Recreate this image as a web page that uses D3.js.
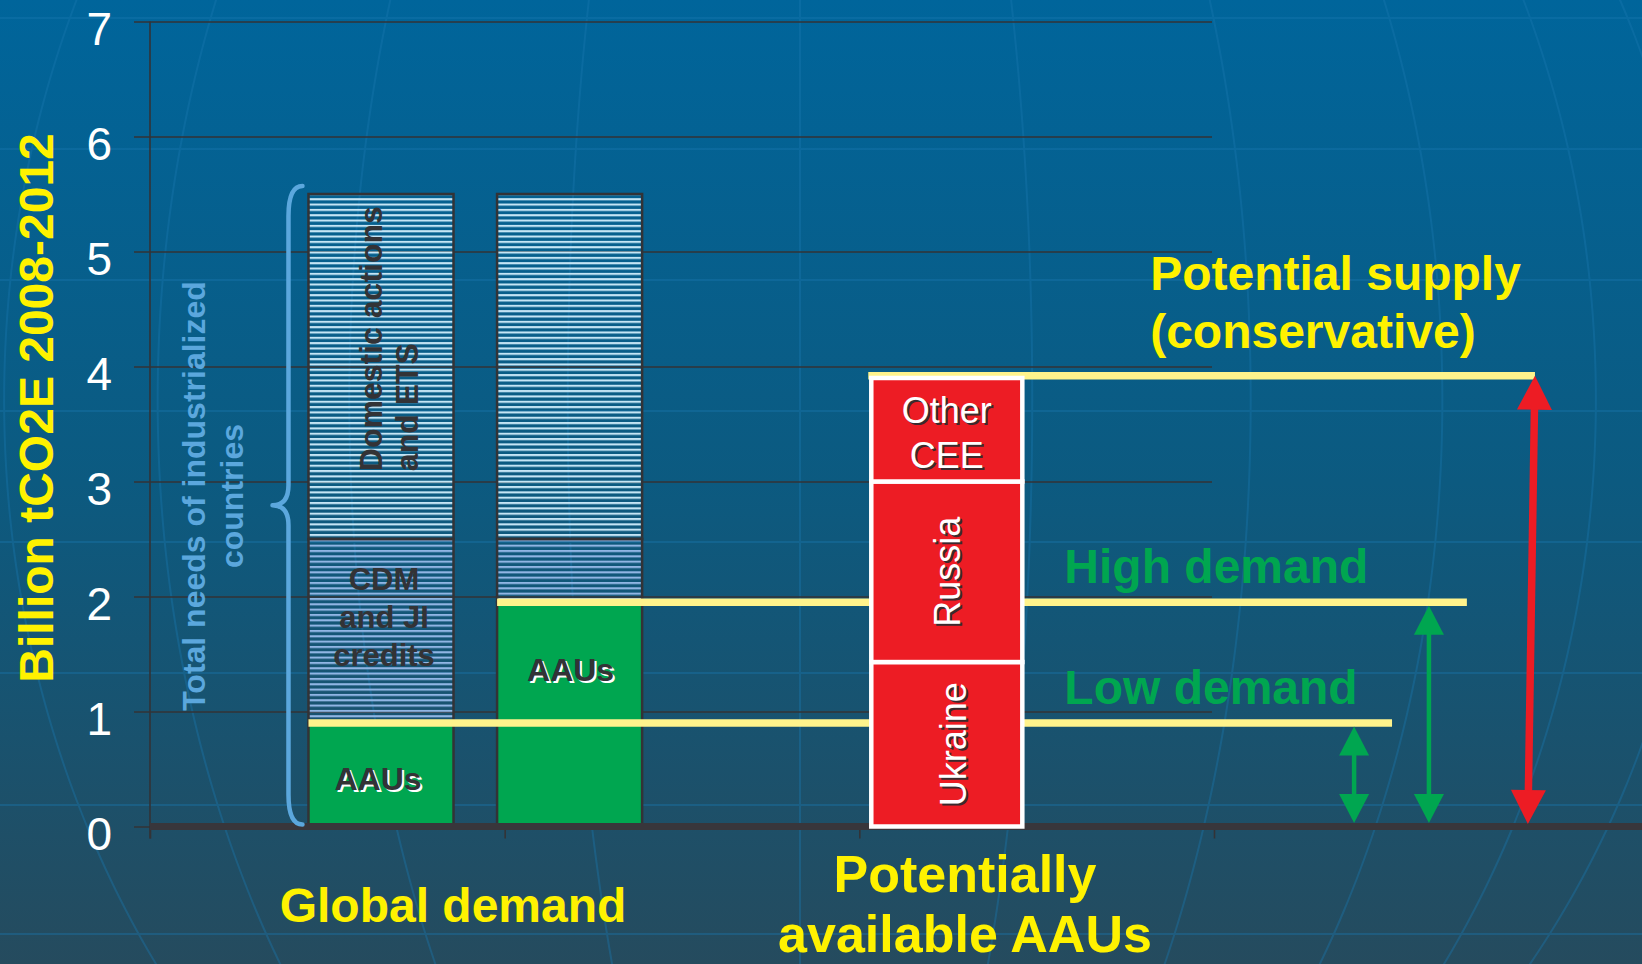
<!DOCTYPE html>
<html><head><meta charset="utf-8">
<script src="https://cdn.jsdelivr.net/npm/d3@7"></script>
<style>
html,body{margin:0;padding:0;background:#0b5a80;overflow:hidden;}
svg{display:block;font-family:"Liberation Sans",Arial,Helvetica,sans-serif;}
</style></head><body>
<svg id="chart" width="1642" height="964"></svg>
<script>
// ---------------- data ----------------
const yTicks = [0, 1, 2, 3, 4, 5, 6, 7];
const yTitle = "Billion tCO2E 2008-2012";
const barKeys = ["lowDemandBar", "highDemandBar", "gap", "supplyBar"];
const demandKeys = ["AAUs", "CDM", "Domestic"];
const lowDemandBar = [0.9, 1.6, 3.0];     // AAUs, CDM & JI, Domestic & ETS
const highDemandBar = [1.95, 0.55, 3.0];
const supplyCountries = ["Ukraine", "Russia", "Other CEE"];
const supplyValues = [1.43, 1.57, 0.9];
const demandLevelNames = ["Low demand", "High demand"];
const demandLevelValues = [0.9, 1.95];
const potentialSupplyValue = 3.92;
const needsBraceRange = [0, 5.57];
const categoryLabels = ["Global demand", "Potentially available AAUs"];

// ---------------- setup ----------------
const W = 1642, H = 964;
const svg = d3.select("#chart");
const y = d3.scaleLinear().domain([0, 7]).range([826.5, 21.5]);
const xLin = d3.scaleLinear().domain([0, 3]).range([150, 1214]);
const xBand = d3.scaleBand().domain(barKeys).range([286.7, 1041.1])
  .paddingInner(0.231).paddingOuter(0.1155);

const YELLOW = "#fff200", GREEN = "#00a650", RED = "#ed1c24",
      LINEY = "#fff38c", DARK = "#333336", BRACE = "#5ba7dd";

const defs = svg.append("defs");
const grad = defs.append("linearGradient").attr("id", "bg").attr("x1", 0).attr("y1", 0).attr("x2", 0).attr("y2", 1);
grad.append("stop").attr("offset", "0%").attr("stop-color", "#00659b");
grad.append("stop").attr("offset", "50%").attr("stop-color", "#0c5a80");
grad.append("stop").attr("offset", "100%").attr("stop-color", "#254b5e");

function hatch(id, color) {
  const p = defs.append("pattern").attr("id", id).attr("patternUnits", "userSpaceOnUse")
    .attr("width", 20).attr("height", 5.33).attr("y", 1);
  p.append("rect").attr("x", 0).attr("y", 0).attr("width", 20).attr("height", 2.1).attr("fill", color);
}
hatch("hatchDom", "#c4e5f5");
hatch("hatchCdm", "#90b5e4");

// background
svg.append("rect").attr("width", W).attr("height", H).attr("fill", "url(#bg)");

// decorative globe lines
const deco = svg.append("g").attr("fill", "none").attr("stroke", "#1a78b0").attr("stroke-width", 2).attr("opacity", 0.38);
[18, 149, 280, 411, 542, 673, 805, 934].forEach(v => {
  deco.append("line").attr("x1", 0).attr("x2", W).attr("y1", v).attr("y2", v);
});
const gcx = 800, gcy = 400, gR = 960;
[-56, -42, -28, -14, 0, 14, 28, 42, 56, 70].forEach(lon => {
  const pts = d3.range(-10, 980, 10).map(py => {
    const s = (gcy - py) / gR, c = Math.sqrt(Math.max(0, 1 - s * s));
    return [gcx + gR * Math.sin(lon * Math.PI / 180) * c, py];
  });
  deco.append("path").attr("d", d3.line().curve(d3.curveBasis)(pts));
});

// grid + y axis
const yAxis = d3.axisLeft(y).tickValues(yTicks).tickFormat(d3.format("d")).tickSize(0).tickPadding(38);
const gy = svg.append("g").attr("transform", `translate(${xLin(0)},0)`).call(yAxis);
gy.select(".domain").remove();
gy.selectAll(".tick line").attr("x1", -16).attr("x2", 1062).attr("stroke", DARK).attr("stroke-width", 1.6);
gy.selectAll(".tick text").attr("fill", "#ffffff").attr("font-size", 46)
  .attr("font-family", "Liberation Sans, Arial, sans-serif").attr("dy", 23).attr("text-anchor", "end");
svg.append("line").attr("x1", xLin(0)).attr("x2", xLin(0)).attr("y1", y(7)).attr("y2", y(0) + 12)
  .attr("stroke", DARK).attr("stroke-width", 1.6);

// bottom ticks
const xAxis = d3.axisBottom(xLin).tickValues([0, 1, 2, 3]).tickSize(12).tickFormat("");
const gx = svg.append("g").attr("transform", `translate(0,${y(0)})`).call(xAxis);
gx.select(".domain").remove();
gx.selectAll(".tick line").attr("stroke", DARK).attr("stroke-width", 1.6);

// demand bars
const demandRows = [
  Object.fromEntries([["key", "lowDemandBar"], ...demandKeys.map((k, i) => [k, lowDemandBar[i]])]),
  Object.fromEntries([["key", "highDemandBar"], ...demandKeys.map((k, i) => [k, highDemandBar[i]])])
];
const stack = d3.stack().keys(demandKeys)(demandRows);
const fills = { AAUs: GREEN, CDM: "url(#hatchCdm)", Domestic: "url(#hatchDom)" };
stack.forEach(layer => {
  svg.append("g").selectAll("rect").data(layer).join("rect")
    .attr("x", d => xBand(d.data.key))
    .attr("width", xBand.bandwidth())
    .attr("y", d => y(d[1]))
    .attr("height", d => y(d[0]) - y(d[1]))
    .attr("fill", fills[layer.key])
    .attr("stroke", DARK).attr("stroke-width", 2.5);
});

// thick zero axis
svg.append("line").attr("x1", xLin(0)).attr("x2", W).attr("y1", y(0)).attr("y2", y(0))
  .attr("stroke", "#38363b").attr("stroke-width", 7);

// yellow level lines
const levelLines = [
  { v: demandLevelValues[0], x1: xBand("lowDemandBar"), x2: xLin(3.502) },
  { v: demandLevelValues[1], x1: xBand("highDemandBar"), x2: xLin(3.713) },
  { v: potentialSupplyValue, x1: xBand("supplyBar") - 6, x2: xLin(3.905) }
];
svg.append("g").selectAll("line").data(levelLines).join("line")
  .attr("x1", d => d.x1).attr("x2", d => d.x2)
  .attr("y1", d => y(d.v)).attr("y2", d => y(d.v))
  .attr("stroke", LINEY).attr("stroke-width", 7.5);

// supply bar
const supplyRow = Object.fromEntries([["key", "supplyBar"], ...supplyCountries.map((k, i) => [k, supplyValues[i]])]);
const sStack = d3.stack().keys(supplyCountries)([supplyRow]);
const sg = svg.append("g");
sStack.forEach(layer => {
  const d = layer[0];
  sg.append("rect").attr("x", xBand("supplyBar") - 3).attr("width", xBand.bandwidth() + 6)
    .attr("y", y(d[1])).attr("height", y(d[0]) - y(d[1]))
    .attr("fill", RED).attr("stroke", "#ffffff").attr("stroke-width", 4.5);
});

// arrows
function dblArrow(xb, yb, xt, yt, color, sw, hw, hl) {
  const dx = xt - xb, dy = yt - yb, L = Math.hypot(dx, dy), ux = dx / L, uy = dy / L, px = -uy, py = ux;
  const g = svg.append("g");
  g.append("line").attr("x1", xb + ux * hl * 0.8).attr("y1", yb + uy * hl * 0.8)
    .attr("x2", xt - ux * hl * 0.8).attr("y2", yt - uy * hl * 0.8)
    .attr("stroke", color).attr("stroke-width", sw);
  const head = (tx, ty, dir) => {
    const bx = tx - dir * ux * hl, by = ty - dir * uy * hl;
    return `M${tx},${ty}L${bx + px * hw / 2},${by + py * hw / 2}L${bx - px * hw / 2},${by - py * hw / 2}Z`;
  };
  g.append("path").attr("d", head(xt, yt, 1)).attr("fill", color);
  g.append("path").attr("d", head(xb, yb, -1)).attr("fill", color);
}
dblArrow(xLin(3.395), y(0) - 3.5, xLin(3.395), y(demandLevelValues[0]) + 3.5, GREEN, 4.5, 30, 29);
dblArrow(xLin(3.606), y(0) - 3.5, xLin(3.606), y(demandLevelValues[1]) + 3.5, GREEN, 4.5, 30, 29);
dblArrow(xLin(3.885), y(0) - 2.5, xLin(3.905), y(potentialSupplyValue), RED, 7.5, 35, 34);

// brace
(function () {
  const xb = xBand("lowDemandBar") - 20, tip = xb - 16, xe = xb + 14;
  const yT = y(needsBraceRange[1]), yB = y(needsBraceRange[0]) - 2, yM = (yT + yB) / 2;
  const r = 30, r2 = 20;
  const p = `M${xe},${yT} Q${xb},${yT} ${xb},${yT + r} L${xb},${yM - r2} Q${xb},${yM} ${tip},${yM} ` +
            `Q${xb},${yM} ${xb},${yM + r2} L${xb},${yB - r} Q${xb},${yB} ${xe},${yB}`;
  svg.append("path").attr("d", p).attr("fill", "none").attr("stroke", BRACE).attr("stroke-width", 4.5)
    .attr("stroke-linejoin", "round").attr("stroke-linecap", "round");
})();

// ---------------- text ----------------
function txt(x, yy, s, o) {
  const t = svg.append("text").attr("x", x).attr("y", yy).text(s)
    .attr("font-size", o.size).attr("font-weight", o.weight || "bold")
    .attr("fill", o.fill).attr("text-anchor", o.anchor || "start");
  if (o.rot) t.attr("transform", `rotate(${o.rot},${x},${yy})`);
  return t;
}
function shadowTxt(x, yy, s, o, shadowColor) {
  txt(x + 2, yy + 2, s, Object.assign({}, o, { fill: shadowColor, rot: o.rot }));
  txt(x, yy, s, o);
}

// y title
txt(53, 408, yTitle, { size: 48, fill: YELLOW, anchor: "middle", rot: -90 });

// brace label
txt(205, 496, "Total needs of industrialized", { size: 32, fill: BRACE, anchor: "middle", rot: -90 });
txt(243, 496, "countries", { size: 32, fill: BRACE, anchor: "middle", rot: -90 });

// demand bar labels
const c1 = xBand("lowDemandBar") + xBand.bandwidth() / 2;
const c2 = xBand("highDemandBar") + xBand.bandwidth() / 2;
txt(c1 + 1, y(3.09), "Domestic actions", { size: 32, fill: DARK, rot: -90 });
txt(c1 + 37, y(3.09), "and ETS", { size: 32, fill: DARK, rot: -90 });
["CDM", "and JI", "credits"].forEach((s, i) => txt(c1 + 3, 590 + i * 38, s, { size: 31, fill: DARK, anchor: "middle" }));
shadowTxt(c1 - 3, y(demandLevelValues[0] / 2) + 15, "AAUs", { size: 32, fill: DARK, anchor: "middle" }, "#ffffff");
shadowTxt(c2 + 1, y(demandLevelValues[1] / 2) - 33, "AAUs", { size: 32, fill: DARK, anchor: "middle" }, "#ffffff");

// supply labels
const cs = xBand("supplyBar") + xBand.bandwidth() / 2;
const sShadow = "#3a2a2e";
const mid = i => y((sStack[i][0][0] + sStack[i][0][1]) / 2);
shadowTxt(cs, mid(2) - 7, "Other", { size: 36, weight: "normal", fill: "#ffffff", anchor: "middle" }, sShadow);
shadowTxt(cs, mid(2) + 38, "CEE", { size: 36, weight: "normal", fill: "#ffffff", anchor: "middle" }, sShadow);
shadowTxt(cs + 13, mid(1), supplyCountries[1], { size: 36, weight: "normal", fill: "#ffffff", anchor: "middle", rot: -90 }, sShadow);
shadowTxt(cs + 19, mid(0), supplyCountries[0], { size: 36, weight: "normal", fill: "#ffffff", anchor: "middle", rot: -90 }, sShadow);

// annotations
txt(xLin(2.82), 290, "Potential supply", { size: 48, fill: YELLOW });
txt(xLin(2.82), 348, "(conservative)", { size: 48, fill: YELLOW });
txt(xLin(2.578), 583, demandLevelNames[1], { size: 48, fill: GREEN });
txt(xLin(2.578), 704, demandLevelNames[0], { size: 48, fill: GREEN });

// category labels
txt(453, 922, categoryLabels[0], { size: 48, fill: YELLOW, anchor: "middle" });
txt(965, 892, "Potentially", { size: 52, fill: YELLOW, anchor: "middle" });
txt(965, 952, "available AAUs", { size: 52, fill: YELLOW, anchor: "middle" });
</script>
</body></html>
